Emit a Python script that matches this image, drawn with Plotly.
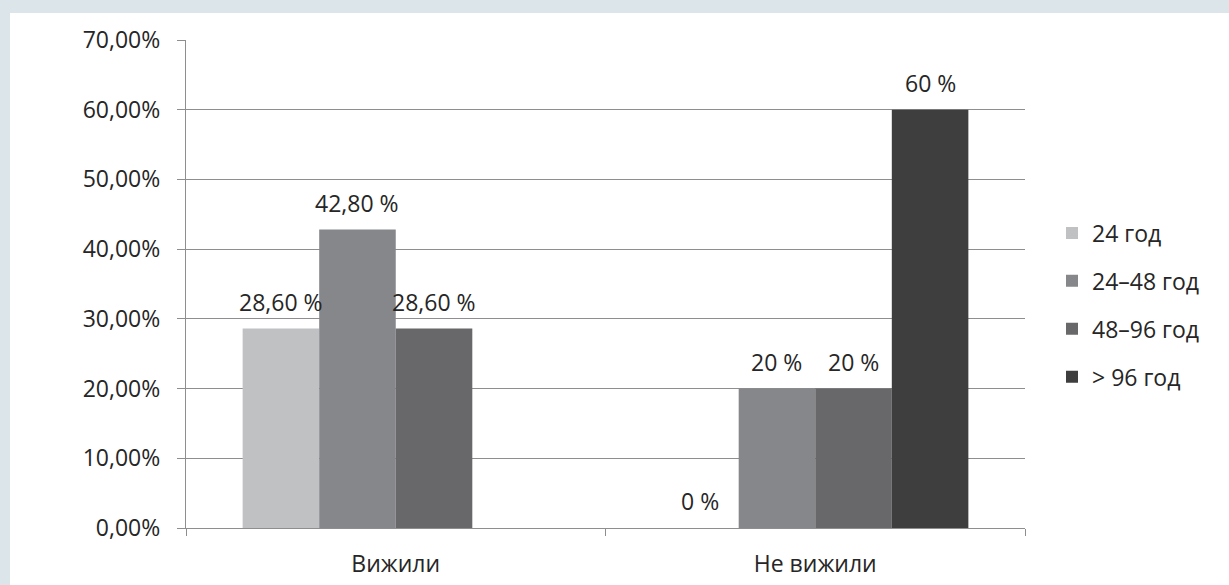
import plotly.graph_objects as go

categories = ["Вижили", "Не вижили"]
series_names = ["24 год", "24–48 год", "48–96 год", "> 96 год"]
series_values = [
    [28.6, 0.0],
    [42.8, 20.0],
    [28.6, 20.0],
    [None, 60.0],
]
series_labels = [
    ["28,60 %", "0 %"],
    ["42,80 %", "20 %"],
    ["28,60 %", "20 %"],
    ["", "60 %"],
]
series_colors = ["#c0c1c3", "#86878a", "#68686a", "#3e3e3e"]
y_ticks = [0, 10, 20, 30, 40, 50, 60, 70]
y_tick_labels = ["0,00%", "10,00%", "20,00%", "30,00%", "40,00%", "50,00%", "60,00%", "70,00%"]

FONT = "Open Sans"
FS = 23
TXT = "#262626"
BARGAP = 0.27

fig = go.Figure()
for name, vals, col in zip(series_names, series_values, series_colors):
    fig.add_trace(go.Bar(
        x=categories, y=vals, name=name, marker_color=col,
        marker_line_width=0, legendgroup=name,
    ))

# data labels above bars, placed at each bar's centre within its group
n = len(series_names)
bw = (1 - BARGAP) / n
for i, (vals, labels) in enumerate(zip(series_values, series_labels)):
    for j, (v, lab) in enumerate(zip(vals, labels)):
        if v is None or not lab:
            continue
        fig.add_annotation(
            x=j + (i - (n - 1) / 2) * bw, y=v, xref="x", yref="y",
            text=lab, showarrow=False, yanchor="bottom", yshift=9,
            font=dict(family=FONT, size=FS, color=TXT),
        )

L, R, T, B = 186, 1025, 40, 528
W, H = 1229, 585
pw, ph = R - L, B - T

fig.add_shape(type="rect", xref="paper", yref="paper", layer="below",
              x0=(10 - L) / pw, x1=(W + 20 - L) / pw,
              y0=(B - (H + 20)) / ph, y1=(B - 13) / ph,
              fillcolor="white", line_width=0)

fig.update_layout(
    width=W, height=H,
    margin=dict(l=L, r=W - R, t=T, b=H - B, pad=0, autoexpand=False),
    paper_bgcolor="#dbe5ea",
    plot_bgcolor="rgba(0,0,0,0)",
    barmode="group", bargap=BARGAP, bargroupgap=0,
    font=dict(family=FONT, size=FS, color=TXT),
    showlegend=True,
    legend=dict(x=(1052 - L) / pw, y=(B - 305) / ph, xanchor="left", yanchor="middle",
                font=dict(family=FONT, size=FS, color=TXT),
                tracegroupgap=15, itemwidth=30, bgcolor="rgba(0,0,0,0)"),
)
fig.update_yaxes(
    range=[0, 70], tickvals=y_ticks, ticktext=y_tick_labels,
    showgrid=True, gridcolor="#8e8e90", gridwidth=1.3,
    showline=True, linecolor="#8e8e90", linewidth=1.3,
    ticks="outside", ticklen=8, tickcolor="#8e8e90", tickwidth=1.3,
    ticklabelstandoff=12, zeroline=False, automargin=False,
    tickfont=dict(family=FONT, size=FS, color=TXT),
)
fig.update_xaxes(
    range=[-0.5, 1.5],
    showline=True, linecolor="#8e8e90", linewidth=1.3,
    ticks="outside", ticklen=7, tickcolor="#8e8e90", tickwidth=1.3,
    tickson="boundaries", showgrid=False, ticklabelstandoff=15, automargin=False,
    tickfont=dict(family=FONT, size=FS, color=TXT),
)
fig.write_html("out.html")
